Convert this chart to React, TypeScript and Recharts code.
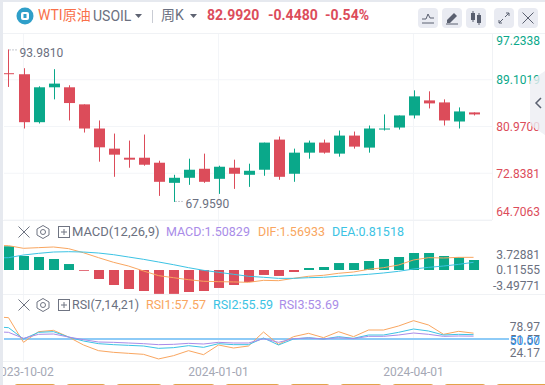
import { Bar, CartesianGrid, Cell, ComposedChart, Line, ReferenceLine, XAxis, YAxis } from 'recharts';

const UP = '#0aa88a';
const DOWN = '#dc4c5a';
const GRID = '#f3f5f8';
const GRAY = '#6b7080';
const ORANGE = '#f9a660';
const CYAN = '#3cc3e4';
const PURPLE = '#a98ce8';
const FONT = 'Roboto, "Noto Sans CJK SC", sans-serif';

// one week per entry, the first one sits just off the left edge of the plot
const weeks = [
    '2023-09-18', '2023-09-25', '2023-10-02', '2023-10-09', '2023-10-16', '2023-10-23', '2023-10-30',
    '2023-11-06', '2023-11-13', '2023-11-20', '2023-11-27', '2023-12-04', '2023-12-11', '2023-12-18',
    '2023-12-25', '2024-01-01', '2024-01-08', '2024-01-15', '2024-01-22', '2024-01-29', '2024-02-05',
    '2024-02-12', '2024-02-19', '2024-02-26', '2024-03-04', '2024-03-11', '2024-03-18', '2024-03-25',
    '2024-04-01', '2024-04-08', '2024-04-15', '2024-04-22', '2024-04-29',
];

const opens = [90.24, 90.06, 81.72, 87.79, 87.79, 84.82, 80.62, 77.12, 75.54, 75.54, 74.67, 71.17, 72.05, 73.62, 71.87, 73.8, 72.57, 73.45, 78.69, 72.75, 76.42, 78.17, 76.25, 79.39, 77.3, 80.44, 80.79, 82.89, 85.51, 85.16, 81.84, 83.42];
const closes = [90.12, 81.72, 87.79, 88.43, 85.05, 80.62, 77.35, 76.07, 75.2, 74.32, 71.35, 72.05, 73.45, 71.35, 73.97, 72.75, 73.27, 78.17, 72.22, 76.42, 78.17, 76.42, 79.39, 77.47, 80.62, 80.62, 82.89, 86.21, 84.99, 82.02, 83.59, 83.07];
const highs = [94.38, 91.11, 87.96, 90.94, 88.14, 84.82, 82.02, 79.74, 78.52, 79.57, 75.02, 72.57, 75.37, 76.25, 74.15, 75.2, 74.5, 78.17, 79.22, 77.12, 78.52, 78.69, 80.27, 80.09, 81.14, 83.07, 82.89, 87.26, 87.09, 85.69, 84.29, 83.42];
const lows = [87.85, 80.62, 81.49, 85.69, 82.02, 79.92, 74.85, 72.22, 73.8, 74.15, 68.9, 67.85, 70.82, 71.17, 69.25, 70.12, 70.47, 72.4, 71.7, 71.35, 75.37, 76.25, 75.72, 77.12, 76.42, 80.27, 80.44, 82.37, 84.11, 81.14, 80.62, 82.89];

const macdHist = [3.9, 3.57, 2.11, 1.96, 1.66, 0.9, -0.12, -1.36, -2.26, -2.86, -3.17, -3.6, -3.6, -3.32, -3.17, -2.71, -2.26, -1.81, -0.75, -0.9, -0.3, 0.3, 0.45, 1.05, 1.05, 1.36, 1.66, 1.96, 2.56, 2.56, 2.11, 1.91, 1.51];
const difLine = [3.7, 3.67, 3.27, 3.37, 3.47, 3.22, 2.6, 1.86, 1.16, 0.6, -0.15, -0.85, -1.16, -1.46, -1.7, -1.76, -1.8, -1.86, -1.56, -1.61, -1.26, -0.95, -0.8, -0.5, -0.3, 0.1, 0.35, 0.75, 1.51, 1.86, 1.81, 1.91, 1.91];
const deaLine = [1.8, 1.86, 2.26, 2.51, 2.71, 2.76, 2.71, 2.56, 2.31, 1.96, 1.61, 1.21, 0.8, 0.35, -0.05, -0.35, -0.65, -0.95, -1.1, -1.26, -1.26, -1.16, -1.1, -0.95, -0.8, -0.65, -0.45, -0.2, 0.15, 0.4, 0.6, 0.85, 1.16];

const rsi1 = [78.97, 77.63, 45.68, 59.5, 61.23, 52.59, 42.23, 34.89, 32.73, 31.43, 30.14, 24.17, 28.41, 34.89, 29.7, 42.23, 38.34, 40.93, 59.07, 43.09, 53.02, 57.34, 51.73, 59.5, 53.02, 61.66, 61.66, 66.84, 73.75, 68.14, 56.05, 59.93, 57.57];
const rsi2 = [65.98, 64.68, 50, 58.64, 59.5, 52.59, 47.41, 43.95, 42.66, 41.8, 40.93, 37.91, 38.77, 41.36, 39.2, 43.95, 42.66, 42.66, 51.3, 42.23, 50, 51.73, 50, 53.02, 50.86, 55.18, 55.18, 58.64, 62.95, 60.36, 55.18, 56.05, 55.59];
const rsi3 = [59.5, 58.64, 50.86, 56.05, 56.48, 52.59, 49.14, 46.11, 45.68, 44.82, 43.95, 42.66, 43.09, 44.39, 43.52, 45.68, 44.82, 44.82, 50.43, 45.68, 50.43, 51.3, 50, 51.73, 50.43, 53.45, 53.45, 55.18, 57.77, 56.05, 53.45, 53.89, 53.69];

const priceTicks = [97.2338, 89.1019, 80.97, 72.8381, 64.7063];
const macdTicks = [3.72881, 0.11555, -3.49771];
const rsiTicks = [78.97, 51.57, 24.17, 50];
const dateTicks = [1, 14, 27];
const X_DOMAIN = [-0.3, 32.23];

const candles = opens.map((open, i) => ({ idx: i, open, close: closes[i], high: highs[i], low: lows[i] }));
// mid is only there so the label axis counts as used, the line is not painted
const macdRows = macdHist.map((hist, i) => ({ idx: i - 1, hist, dif: difLine[i], dea: deaLine[i], mid: macdTicks[1] }));
const rsiRows = rsi1.map((r1, i) => ({ idx: i - 1, r1, r2: rsi2[i], r3: rsi3[i], mid: rsiTicks[1] }));

const extremes: Record<number, string> = { 0: '93.9810', 11: '67.9590' };

function CandleShape(props: any) {
    const { x, y, width, height, payload } = props;
    const k = height / (payload.high - payload.low);
    const top = y + (payload.high - Math.max(payload.open, payload.close)) * k;
    const bodyH = Math.max(Math.abs(payload.open - payload.close) * k, 1);
    const color = payload.close >= payload.open ? UP : DOWN;
    const cx = Math.round(x + width / 2) + 0.5;
    const note = extremes[payload.idx];
    const noteY = payload.idx === 0 ? y + 0.5 : y + height - 0.5;
    return (
        <g>
            <line x1={cx} x2={cx} y1={y} y2={y + height} stroke={color} strokeWidth={1} />
            <rect x={cx - 5.5} y={top} width={11} height={bodyH} fill={color} />
            {note && <line x1={cx + 1} x2={cx + 10} y1={noteY} y2={noteY} stroke="#8a8e9c" strokeDasharray="1 2" />}
            {note && (
                <text x={cx + 11} y={noteY + 7} fontSize={12} fill={GRAY} fontFamily={FONT}>
                    {note}
                </text>
            )}
        </g>
    );
}

function PriceTick({ y, payload }: any) {
    const color = payload.value > 82.992 ? UP : DOWN;
    const py = Math.min(Math.max(y, 7.7), 178.7);
    return (
        <text x={540} y={py + 4.5} textAnchor="end" fontSize={12} fill={color} fontFamily={FONT}>
            {payload.value.toFixed(4)}
        </text>
    );
}

function PlainTick({ y, payload, digits }: any) {
    return (
        <text
            x={540}
            y={y + 4.5}
            textAnchor="end"
            fontSize={12}
            fill={payload.value === 50 ? '#2f96f0' : GRAY}
            fontFamily={FONT}
        >
            {payload.value.toFixed(digits)}
        </text>
    );
}

function Txt({ x, y, color = GRAY, size = 12, bold = false, children }: any) {
    return (
        <div
            style={{
                position: 'absolute',
                left: x,
                top: y - 10,
                height: 20,
                lineHeight: '20px',
                fontSize: size,
                fontWeight: bold ? 700 : 400,
                color,
                fontFamily: FONT,
                whiteSpace: 'nowrap',
            }}
        >
            {children}
        </div>
    );
}

function Sep({ x, y, w, h, color = '#f0f2f5' }: any) {
    return <div style={{ position: 'absolute', left: x, top: y, width: w, height: h, background: color }} />;
}

function PaneIcons({ y }: { y: number }) {
    const g = '#6f7482';
    return (
        <svg style={{ position: 'absolute', left: 16, top: y - 8, width: 56, height: 16 }}>
            <path d="M2.5 2.5 L13.5 13.5 M13.5 2.5 L2.5 13.5" stroke={g} fill="none" />
            <path d="M27 1.5 L33 5 L33 11 L27 14.5 L21 11 L21 5 Z" stroke={g} fill="none" />
            <circle cx={27} cy={8} r={2.5} stroke={g} fill="none" />
            <rect x={42.5} y={2.5} width={11} height={11} stroke={g} fill="none" />
            <path d="M45 8 H51 M48 5 V11" stroke={g} fill="none" />
        </svg>
    );
}

function ToolButton({ x, children }: any) {
    return (
        <svg style={{ position: 'absolute', left: x, top: 8, width: 20, height: 20 }}>
            <rect width={20} height={20} rx={4} fill="#e9ebf2" />
            {children}
        </svg>
    );
}

const dateLabel = (i: number) => weeks[i + 1];

export default function App() {
    return (
        <div style={{ position: 'absolute', left: 0, top: 0, width: 545, height: 385, overflow: 'hidden', background: '#fff' }}>
            <div style={{ position: 'absolute', left: 0, top: 33, width: 545, height: 187 }}>
                <ComposedChart width={545} height={187} data={candles} margin={{ top: 0, right: 0, bottom: 0, left: 4 }}>
                    <CartesianGrid stroke={GRID} verticalValues={dateTicks} horizontalValues={priceTicks} />
                    <XAxis dataKey="idx" type="number" domain={X_DOMAIN} ticks={dateTicks} hide allowDataOverflow />
                    <YAxis
                        orientation="right"
                        width={53}
                        domain={[64.7063, 97.2338]}
                        ticks={priceTicks}
                        interval={0}
                        axisLine={false}
                        tickLine={false}
                        tick={<PriceTick />}
                    />
                    <Bar dataKey={(d: any) => [d.low, d.high]} barSize={11} shape={CandleShape} isAnimationActive={false} />
                </ComposedChart>
            </div>

            <div style={{ position: 'absolute', left: 0, top: 220, width: 545, height: 74 }}>
                <ComposedChart width={545} height={74} data={macdRows} margin={{ top: 0, right: 0, bottom: 0, left: 4 }}>
                    <CartesianGrid stroke={GRID} horizontal={false} verticalValues={dateTicks} />
                    <XAxis dataKey="idx" type="number" domain={X_DOMAIN} ticks={dateTicks} hide allowDataOverflow />
                    <YAxis domain={[-3.62, 7.54]} hide allowDataOverflow />
                    <YAxis
                        yAxisId="labels"
                        orientation="right"
                        width={53}
                        domain={[-5.39, 11.48]}
                        ticks={macdTicks}
                        interval={0}
                        axisLine={false}
                        tickLine={false}
                        tick={<PlainTick digits={5} />}
                    />
                    <Bar dataKey="hist" barSize={10} isAnimationActive={false}>
                        {macdRows.map((row) => (
                            <Cell key={row.idx} fill={row.hist >= 0 ? UP : DOWN} />
                        ))}
                    </Bar>
                    <Line dataKey="dif" stroke={ORANGE} strokeWidth={1} dot={false} isAnimationActive={false} />
                    <Line dataKey="dea" stroke={CYAN} strokeWidth={1} dot={false} isAnimationActive={false} />
                    <Line yAxisId="labels" dataKey="mid" stroke="none" dot={false} activeDot={false} isAnimationActive={false} />
                </ComposedChart>
            </div>

            <div style={{ position: 'absolute', left: 0, top: 294, width: 545, height: 86 }}>
                <ComposedChart width={545} height={86} data={rsiRows} margin={{ top: 0, right: 0, bottom: 0, left: 4 }}>
                    <CartesianGrid stroke={GRID} horizontal={false} verticalValues={dateTicks} />
                    <XAxis
                        dataKey="idx"
                        type="number"
                        domain={X_DOMAIN}
                        ticks={dateTicks}
                        interval={0}
                        height={19}
                        tickMargin={0}
                        allowDataOverflow
                        axisLine={false}
                        tickLine={false}
                        tickFormatter={dateLabel}
                        tick={{ fontSize: 12, fill: '#a5a8b5', fontFamily: FONT }}
                    />
                    <YAxis domain={[21.5, 108.3]} hide allowDataOverflow />
                    <YAxis
                        yAxisId="labels"
                        orientation="right"
                        width={53}
                        domain={[5.55, 148.95]}
                        ticks={rsiTicks}
                        interval={0}
                        axisLine={false}
                        tickLine={false}
                        tick={<PlainTick digits={2} />}
                    />
                    <ReferenceLine y={50} stroke="#8ecbf7" strokeWidth={2} />
                    <Line dataKey="r1" stroke={ORANGE} strokeWidth={1} dot={false} isAnimationActive={false} />
                    <Line dataKey="r2" stroke={CYAN} strokeWidth={1} dot={false} isAnimationActive={false} />
                    <Line dataKey="r3" stroke={PURPLE} strokeWidth={1} dot={false} isAnimationActive={false} />
                    <Line yAxisId="labels" dataKey="mid" stroke="none" dot={false} activeDot={false} isAnimationActive={false} />
                </ComposedChart>
            </div>

            {/* blue 50 line runs on under the axis labels */}
            <Sep x={492} y={338} w={17} h={2} color="#8ecbf7" />

            {/* pane borders */}
            <Sep x={3} y={33} w={542} h={1} />
            <Sep x={3} y={220} w={489} h={1} />
            <Sep x={3} y={294} w={542} h={1} />
            <Sep x={3} y={361} w={542} h={1} />
            <Sep x={492} y={33} w={1} h={187} />

            {/* outer frame */}
            <Sep x={0} y={0} w={545} h={2} color="#e6e9ef" />
            <Sep x={0} y={0} w={3} h={385} color="#e6e9ef" />

            {/* header */}
            <svg style={{ position: 'absolute', left: 16, top: 7, width: 18, height: 18 }}>
                <circle cx={9} cy={9} r={8.5} fill="#2f9fc9" />
                <rect x={5} y={5} width={8} height={8} rx={2} fill="#fff" />
                <rect x={7.5} y={7} width={3} height={4} fill="#2f9fc9" />
            </svg>
            <Txt x={38} y={15} size={14} color="#f9704a">WTI原油</Txt>
            <Txt x={93} y={16} size={14}>USOIL</Txt>
            <svg style={{ position: 'absolute', left: 135, top: 14, width: 8, height: 5 }}>
                <path d="M0 0 H7 L3.5 4 Z" fill="#5e6372" />
            </svg>
            <Sep x={152} y={10} w={1} h={13} color="#c9ccd4" />
            <Txt x={161} y={15} size={14}>周K</Txt>
            <svg style={{ position: 'absolute', left: 190, top: 14, width: 8, height: 5 }}>
                <path d="M0 0 H7 L3.5 4 Z" fill="#5e6372" />
            </svg>
            <Txt x={207} y={15} size={14} bold color={DOWN}>82.9920</Txt>
            <Txt x={268} y={15} size={14} bold color={DOWN}>-0.4480</Txt>
            <Txt x={325} y={15} size={14} bold color={DOWN}>-0.54%</Txt>

            <ToolButton x={418}>
                <path d="M4 15 H16 M4 11 L8 11 L10 6 L12 10 L16 10" stroke="#5a6070" fill="none" />
            </ToolButton>
            <ToolButton x={442}>
                <path d="M5 12 L12 5 L15 8 L8 15 H5 Z" fill="#5a6070" />
                <path d="M4 16 H16" stroke="#5a6070" />
            </ToolButton>
            <ToolButton x={466}>
                <rect x={5} y={5} width={4} height={7} fill="#5a6070" />
                <path d="M7 3 V14 M13 5 V17" stroke="#5a6070" />
                <rect x={11} y={7} width={4} height={8} fill="#5a6070" />
            </ToolButton>
            <ToolButton x={494}>
                <path d="M11 9 L15 5 M12 5 H15 V8 M9 11 L5 15 M5 12 V15 H8" stroke="#5a6070" fill="none" />
            </ToolButton>
            <ToolButton x={518}>
                <path d="M4.5 4.5 L15.5 15.5 M15.5 4.5 L4.5 15.5" stroke="#5a6070" fill="none" />
            </ToolButton>

            {/* collapse tab */}
            <svg style={{ position: 'absolute', left: 530, top: 70, width: 15, height: 66 }}>
                <path d="M15 1 L0 11 V55 L15 65 Z" fill="#eceef3" fillOpacity={0.8} />
                <path d="M11 28 L6 33 L11 38" stroke="#5a6070" strokeWidth={1.5} fill="none" />
            </svg>

            {/* pane headers */}
            <PaneIcons y={232} />
            <Txt x={72} y={232} size={13}>MACD(12,26,9)</Txt>
            <Txt x={166} y={232} size={12.5} color={PURPLE}>MACD:1.50829</Txt>
            <Txt x={258} y={232} size={12.5} color={ORANGE}>DIF:1.56933</Txt>
            <Txt x={332} y={232} size={12.5} color={CYAN}>DEA:0.81518</Txt>

            <PaneIcons y={305} />
            <Txt x={72} y={305} size={12.5}>RSI(7,14,21)</Txt>
            <Txt x={146} y={305} size={12.5} color={ORANGE}>RSI1:57.57</Txt>
            <Txt x={213} y={305} size={12.5} color={CYAN}>RSI2:55.59</Txt>
            <Txt x={279} y={305} size={12.5} color={PURPLE}>RSI3:53.69</Txt>

            {/* period buttons, only their top edge is in frame */}
            {[[14, 42], [66, 40], [116, 46], [172, 43], [225, 55], [290, 40], [340, 42], [392, 42], [444, 42], [496, 60]].map(([x, w]) => (
                <div
                    key={x}
                    style={{
                        position: 'absolute',
                        left: x,
                        top: 384,
                        width: w,
                        height: 10,
                        border: '1px solid #e3a34a',
                        borderRadius: 3,
                        boxSizing: 'border-box',
                    }}
                />
            ))}
        </div>
    );
}
